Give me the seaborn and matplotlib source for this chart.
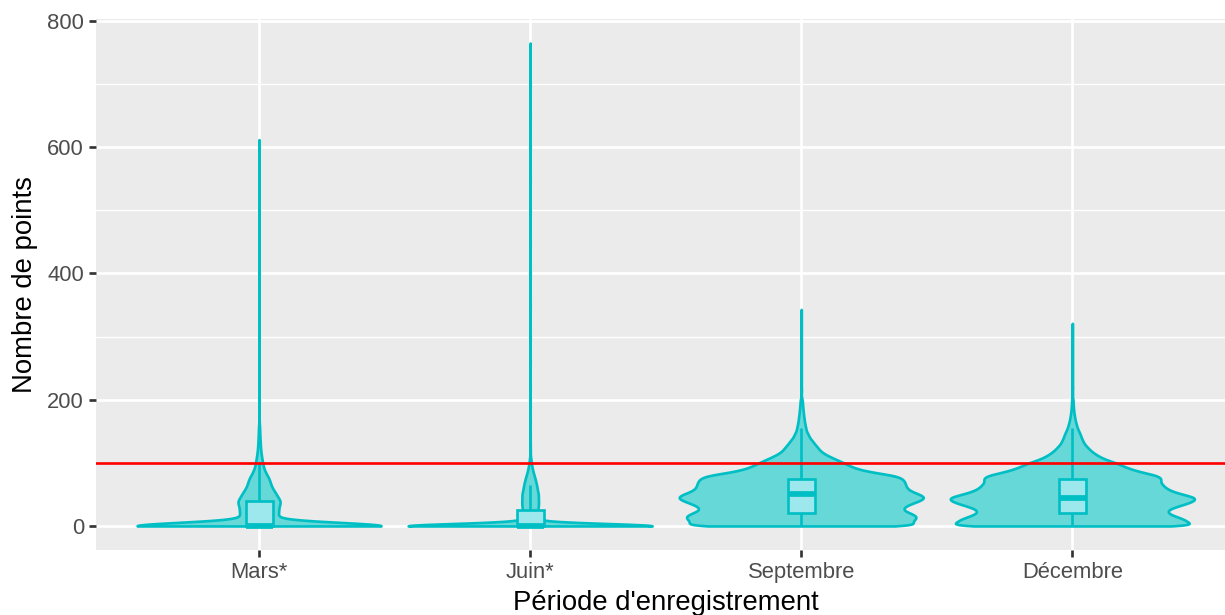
import numpy as np
import pandas as pd
import matplotlib
matplotlib.use("Agg")
import matplotlib.pyplot as plt
from matplotlib.ticker import MultipleLocator
import seaborn as sns

# ---------------- data (as binned counts) ----------------
PERIODES = ["Mars*", "Juin*", "Septembre", "Décembre"]

MARS_POINTS = [0, 2, 4, 6, 8, 10, 12, 14, 16, 18, 20, 22, 24, 26, 28, 30, 32, 34, 36, 38,
               40, 45, 50, 55, 60, 65, 70, 75, 80, 85, 90, 95, 100, 105, 110, 115, 120, 125,
               130, 135, 140, 145, 150, 155, 160, 175, 195, 230, 270, 320, 370, 420, 470, 520,
               570, 612]
MARS_COUNTS = [2896, 60, 60, 60, 60, 60, 60, 72, 72, 72, 72, 72, 72, 72, 72, 72, 72, 72, 72, 72,
               165, 170, 165, 140, 120, 107, 102, 95, 75, 58, 45, 38, 32, 28, 23, 18, 15, 13,
               11, 10, 8, 7, 6, 5, 4, 2, 1, 1, 1, 1, 1, 1, 1, 1,
               1, 1]

JUIN_POINTS = [0, 2, 4, 6, 8, 10, 12, 14, 16, 18, 20, 22, 24, 26,
               30, 35, 40, 45, 50, 55, 60, 65, 70, 75, 80, 85, 90, 95, 100, 105, 110, 120, 130,
               145, 165, 190, 220, 260, 300, 350, 400, 450, 500, 550, 600, 650, 700, 765]
JUIN_COUNTS = [2190, 32, 32, 32, 32, 32, 32, 32, 32, 32, 32, 32, 32, 32,
               80, 80, 82, 78, 82, 72, 68, 62, 55, 48, 38, 30, 22, 16, 11, 7, 4, 3, 2,
               1, 1, 1, 1, 1, 1, 1, 1, 1, 1, 1, 1, 1, 1, 1]

SEPT_POINTS = [0, 5, 10, 15, 20, 25, 30, 35, 40, 45, 50, 55, 60, 65, 70, 75, 80, 85, 90, 95,
               100, 105, 110, 115, 120, 125, 130, 135, 140, 145, 150, 155, 160, 165, 170, 175,
               180, 185, 190, 195, 200, 215, 235, 260, 290, 320, 343]
SEPT_COUNTS = [1200, 1080, 1120, 1150, 1080, 1000, 1010, 1080, 1170, 1230, 1170, 1080, 1040,
               1030, 1020, 1000, 930, 700, 560, 480, 420, 350, 280, 220, 180, 160, 130, 110,
               80, 70, 50, 45, 38, 32, 28, 24, 20, 17, 14, 12, 10, 4, 2, 1, 1, 1, 1]

DEC_POINTS = [0, 5, 10, 15, 20, 25, 30, 35, 40, 45, 50, 55, 60, 65, 70, 75, 80, 85, 90, 95,
              100, 105, 110, 115, 120, 125, 130, 135, 140, 145, 150, 155, 160, 165, 170, 175,
              180, 185, 190, 195, 200, 220, 240, 260, 280, 300, 321]
DEC_COUNTS = [1300, 1160, 1140, 1040, 960, 950, 1030, 1140, 1230, 1250, 1110, 1000, 940, 910,
              880, 900, 860, 700, 590, 510, 440, 340, 270, 220, 180, 150, 120, 105, 90, 80, 65,
              50, 42, 32, 26, 20, 16, 12, 10, 8, 7, 5, 3, 2, 1, 1, 1]

SEUIL = 100
Y_TICKS = [0, 200, 400, 600, 800]

# ---------------- style ----------------
BANDWIDTH = [5.5, 3.8, 3.5, 3.5]
VIOLIN_FILL = "#66D8D8"
BOX_FILL = "#9CE8EC"
EDGE = "#00BFC4"
DPI = 180

series = {
    "Mars*": (MARS_POINTS, MARS_COUNTS),
    "Juin*": (JUIN_POINTS, JUIN_COUNTS),
    "Septembre": (SEPT_POINTS, SEPT_COUNTS),
    "Décembre": (DEC_POINTS, DEC_COUNTS),
}
frames = []
for p in PERIODES:
    vals, cnts = series[p]
    pts = np.repeat(np.asarray(vals, float), np.asarray(cnts, int))
    frames.append(pd.DataFrame({"periode": p, "points": pts}))
df = pd.concat(frames, ignore_index=True)

sns.set_theme(style="darkgrid")
plt.rcParams["font.family"] = ["Liberation Sans", "DejaVu Sans"]

fig = plt.figure(figsize=(1225 / DPI, 615 / DPI), dpi=DPI)
ax = fig.add_axes([96.4 / 1225, 1 - 550.1 / 615, (1235 - 96.4) / 1225, (550.1 - 18.95) / 615])

for i, p in enumerate(PERIODES):
    sub = df[df["periode"] == p]
    factor = BANDWIDTH[i] / sub["points"].std(ddof=1)
    sns.violinplot(data=sub, x="periode", y="points", order=PERIODES, ax=ax,
                   bw_method=factor, cut=0, gridsize=1600, density_norm="width",
                   width=0.9, inner=None, color=VIOLIN_FILL, linecolor=EDGE,
                   linewidth=1.07, saturation=1)

sns.boxplot(data=df, x="periode", y="points", order=PERIODES, ax=ax, width=0.1,
            color=BOX_FILL, linecolor=EDGE, linewidth=1.07, saturation=1,
            showfliers=False, whis=1.5,
            medianprops={"linewidth": 2.3},
            capprops={"visible": False})

ax.axhline(SEUIL, color="red", linewidth=1.07, zorder=10)

ax.set_facecolor("#EBEBEB")
for s in ax.spines.values():
    s.set_visible(False)
ax.set_xlim(-0.6, 3.6)
ax.set_ylim(-38.25, 803.25)
ax.set_yticks(Y_TICKS)
ax.yaxis.set_minor_locator(MultipleLocator(100))
ax.set_axisbelow(True)
ax.grid(False)
ax.grid(which="major", axis="both", color="white", linewidth=1.07)
ax.grid(which="minor", axis="y", color="white", linewidth=0.53)
ax.tick_params(which="major", length=2.75, width=1.07, color="#333333",
               labelsize=8.8, labelcolor="#4D4D4D", pad=2.2,
               left=True, bottom=True)
ax.tick_params(which="minor", length=0)
ax.set_xlabel("Période d'enregistrement", fontsize=11, color="black", labelpad=2.5)
ax.set_ylabel("Nombre de points", fontsize=11, color="black", labelpad=3.8)

fig.savefig("out.png", dpi=DPI)
